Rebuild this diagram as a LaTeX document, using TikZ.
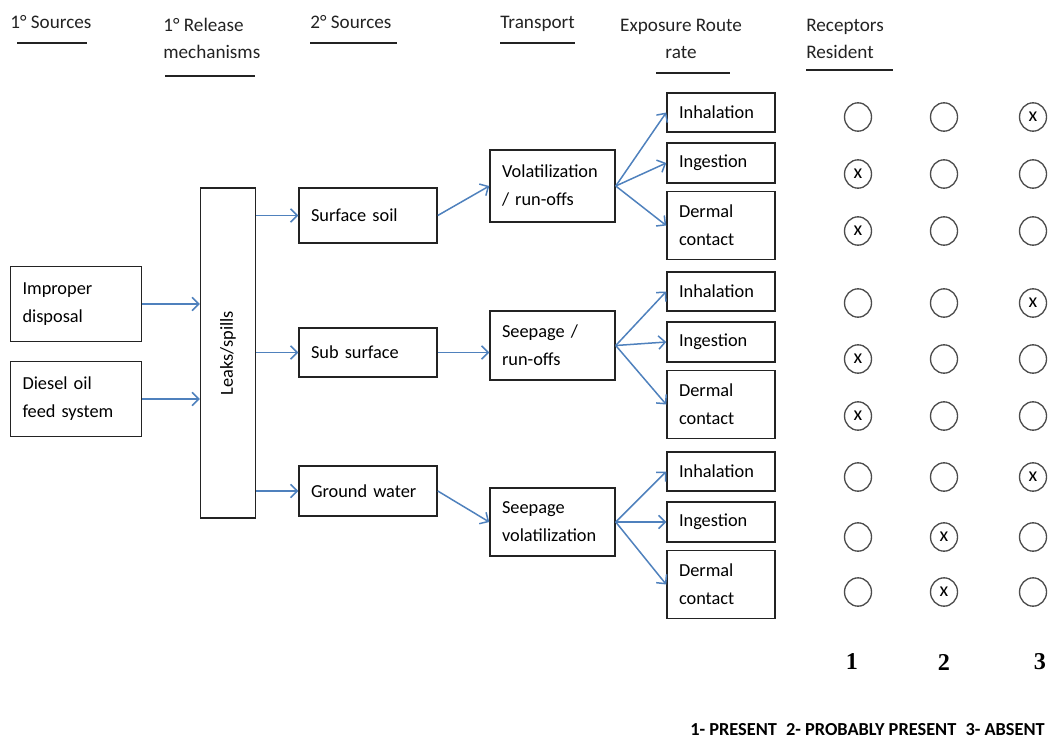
\documentclass[tikz,border=0pt]{standalone}
\usepackage{fontspec}
\setmainfont{Carlito}
\newfontfamily\numfont{Liberation Serif}
\usepackage{tikz}
\usetikzlibrary{arrows.meta,shapes.geometric,calc}
\definecolor{flow}{RGB}{79,129,189}
\definecolor{ink}{RGB}{35,35,35}
\tikzset{
  box/.style={draw=ink,line width=0.9pt,align=left,inner xsep=7.2pt,inner ysep=0pt,font=\fontsize{11}{16.8}\selectfont},
  src/.style={box,text width=64.2pt,minimum height=45pt},
  sec/.style={box,text width=68.4pt},
  trn/.style={box,text width=60.6pt},
  rte/.style={box,text width=50.4pt},
  hdr/.style={anchor=base west,inner sep=0pt,font=\fontsize{11.5}{16.2}\selectfont,text=ink},
  uline/.style={draw=ink,line width=0.9pt},
  flw/.style={draw=flow,line width=0.9pt,-{Straight Barb[length=4pt,width=8pt]}},
  rcp/.style={ellipse,draw=black!70,line width=0.8pt,minimum width=16.2pt,minimum height=17pt,inner sep=0pt,font=\fontsize{12}{14}\selectfont}
}
\begin{document}
\begin{tikzpicture}[x=0.6pt,y=-0.6pt]
\useasboundingbox (0,0) rectangle (1050,746);
\node[hdr] (h1) at (10,29) {1° Sources};
\node[hdr,align=left] (h2) at (163,59) {1° Release\\mechanisms};
\node[hdr] (h3) at (310,29) {2° Sources};
\node[hdr] (h4) at (500,29) {Transport};
\node[hdr,align=center,anchor=base] (h5) at (681,59) {Exposure Route\\rate};
\node[hdr,align=left] (h6) at (806,59) {Receptors\\Resident};
\draw[uline] (17,43) -- (87,43);
\draw[uline] (165,76) -- (255,76);
\draw[uline] (310,43) -- (397,43);
\draw[uline] (500,43) -- (575,43);
\draw[uline] (656,73) -- (730,73);
\draw[uline] (806,70) -- (893,70);

\node[src] (imp) at (76,304) {Improper\\disposal};
\node[src] (dsl) at (76,399) {Diesel oil\\feed system};
\node[box,minimum width=33pt,minimum height=198pt,inner sep=0pt,
  label={[rotate=90,font=\fontsize{11}{13}\selectfont]center:Leaks/spills}] (leak) at (228,353) {};
\node[sec,minimum height=33pt] (surf) at (368,215.5) {Surface soil};
\node[sec,minimum height=29.4pt] (sub) at (368,352.5) {Sub surface};
\node[sec,minimum height=30pt] (gw) at (368,491) {Ground water};
\node[trn,minimum height=43.2pt] (vol) at (552.5,186) {Volatilization\\/ run-offs};
\node[trn,minimum height=41.4pt] (see) at (552.5,345.5) {Seepage /\\run-offs};
\node[trn,minimum height=40.8pt] (sv) at (552.5,522) {Seepage\\volatilization};

\draw[flw] (imp.east) -- (imp.east -| leak.west);
\draw[flw] (dsl.east) -- (dsl.east -| leak.west);
\foreach \n in {surf,sub,gw} \draw[flw] (leak.east |- \n.west) -- (\n.west);
\draw[flw] (surf.east) -- (vol.west);
\draw[flw] (sub.east) -- (sub.east -| see.west);
\draw[flw] (gw.east) -- (sv.west);

\foreach \g/\y/\t in {a/112.5/vol,b/291.5/see,c/471.5/sv}{
  \node[rte,minimum height=23.4pt] (inh\g) at (721,\y) {Inhalation};
  \node[rte,minimum height=24pt] (ing\g) at (721,\y+50.5) {Ingestion};
  \node[rte,minimum height=40.8pt] (der\g) at (721,\y+113) {Dermal\\contact};
  \foreach \r in {inh,ing,der} \draw[flw] (\t.east) -- (\r\g.west);
}

\foreach \y/\m [count=\i] in {117/3,174/1,231/1,303/3,359/1,416/1,477/3,537/2,592/2}
  \foreach \x [count=\c] in {858,944,1033}
    \node[rcp] (r\i\c) at (\x,\y) {\ifnum\c=\m x\fi};

\foreach \x [count=\c] in {852,944,1040}
  \node[font=\numfont\bfseries\fontsize{14.5}{16}\selectfont] (n\c) at (\x,662) {\c};
\node[anchor=base east,inner sep=0pt,font=\bfseries\fontsize{11}{13}\selectfont] (key) at (1045,735)
  {1- PRESENT\enspace 2- PROBABLY PRESENT\enspace 3- ABSENT};
\end{tikzpicture}
\end{document}
